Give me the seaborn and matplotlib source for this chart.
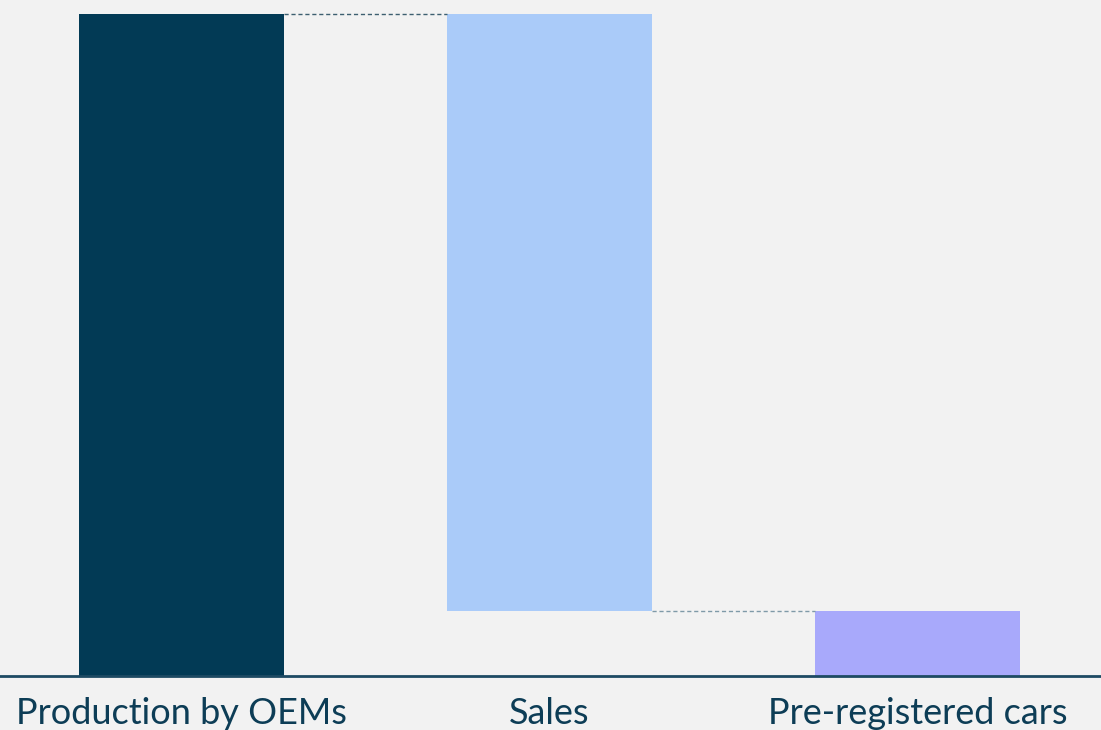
import matplotlib
matplotlib.use("Agg")
import matplotlib.pyplot as plt
import seaborn as sns

# Waterfall: production splits into sales and pre-registered cars
categories = ["Production by OEMs", "Sales", "Pre-registered cars"]
production = 100.0
sales = 90.2
pre_registered = 9.8

heights = [production, sales, pre_registered]
bottoms = [0.0, pre_registered, 0.0]
colors = ["#023a55", "#aacbf9", "#a8a9fb"]

sns.set_theme(style="white")
plt.rcParams["font.family"] = ["Lato", "DejaVu Sans"]

bg = "#f2f2f2"
fig = plt.figure(figsize=(11.01, 7.30), dpi=100, facecolor=bg)
ax = fig.add_axes([0, 54 / 730, 1, 676 / 730], facecolor=bg)

bar_width = 0.557
for cat, h, b, c in zip(categories, heights, bottoms, colors):
    sns.barplot(x=[cat], y=[h], order=categories, color=c, bottom=b,
                width=bar_width, saturation=1, linewidth=0, ax=ax)

ax.set_xlim(-0.4932, -0.4932 + 1101 / 368)
ax.set_ylim(0, production * 676 / 662)

# connector lines between consecutive bars
half = bar_width / 2
ax.plot([0 + half, 1 - half], [production, production], ls=(0, (3, 2)),
        color="#3d5f70", lw=1.0)
ax.plot([1 + half, 2 - half], [pre_registered, pre_registered], ls=(0, (3, 2)),
        color="#7f9aa8", lw=1.0)

for s in ["top", "right", "left"]:
    ax.spines[s].set_visible(False)
ax.spines["bottom"].set_color("#1d4a63")
ax.spines["bottom"].set_linewidth(2)
ax.set_yticks([])
ax.set_xlabel("")
ax.set_ylabel("")
ax.tick_params(axis="x", length=0, pad=15, labelsize=26, labelcolor="#0d3d56")

fig.savefig("out.png", dpi=100, facecolor=bg)
